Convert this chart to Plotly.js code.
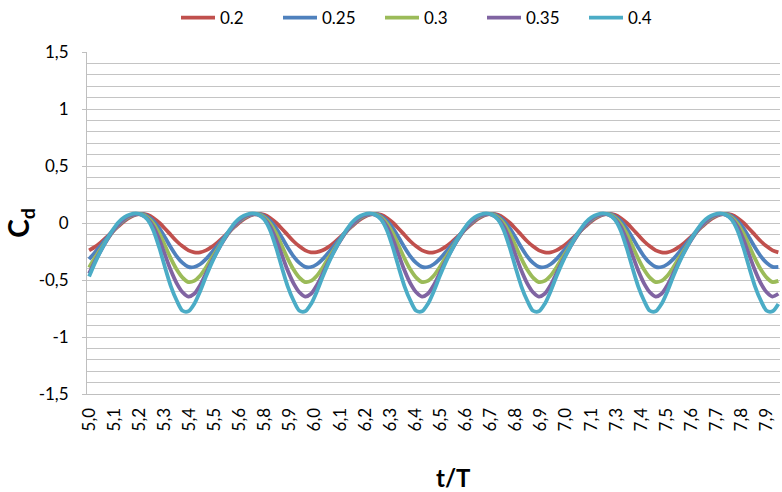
<!DOCTYPE html>
<html><head><meta charset="utf-8">
<script src="https://cdn.plot.ly/plotly-3.0.1.min.js"></script>
<style>html,body{margin:0;padding:0;background:#fff}#chart{width:782px;height:492px}</style>
</head><body><div id="chart"></div>
<script>
// time axis t/T
const tOverT = [
5,5.025,5.05,5.075,5.1,5.125,5.15,5.175,5.2,5.225,5.25,5.275,5.3,5.325,5.35,5.375,5.4,5.425,5.45,5.475,
5.5,5.525,5.55,5.575,5.6,5.625,5.65,5.675,5.7,5.725,5.75,5.775,5.8,5.825,5.85,5.875,5.9,5.925,5.95,5.975,
6,6.025,6.05,6.075,6.1,6.125,6.15,6.175,6.2,6.225,6.25,6.275,6.3,6.325,6.35,6.375,6.4,6.425,6.45,6.475,
6.5,6.525,6.55,6.575,6.6,6.625,6.65,6.675,6.7,6.725,6.75,6.775,6.8,6.825,6.85,6.875,6.9,6.925,6.95,6.975,
7,7.025,7.05,7.075,7.1,7.125,7.15,7.175,7.2,7.225,7.25,7.275,7.3,7.325,7.35,7.375,7.4,7.425,7.45,7.475,
7.5,7.525,7.55,7.575,7.6,7.625,7.65,7.675,7.7,7.725,7.75,7.775,7.8,7.825,7.85,7.875,7.9,7.925,7.95];

const cd_02 = [
-0.24,-0.21,-0.17,-0.125,-0.075,-0.03,0.015,0.05,0.072,0.08,0.071,0.044,0.002,-0.05,-0.105,-0.16,-0.205,-0.24,-0.257,-0.257,
-0.24,-0.21,-0.17,-0.124,-0.075,-0.03,0.015,0.05,0.072,0.08,0.071,0.044,0.002,-0.05,-0.105,-0.16,-0.205,-0.24,-0.257,-0.256,
-0.24,-0.21,-0.17,-0.125,-0.075,-0.03,0.015,0.05,0.072,0.08,0.071,0.044,0.002,-0.05,-0.105,-0.16,-0.205,-0.24,-0.257,-0.257,
-0.24,-0.21,-0.17,-0.125,-0.076,-0.03,0.015,0.05,0.072,0.08,0.071,0.044,0.002,-0.05,-0.105,-0.16,-0.205,-0.24,-0.257,-0.257,
-0.24,-0.21,-0.17,-0.125,-0.075,-0.03,0.015,0.05,0.072,0.08,0.071,0.044,0.002,-0.05,-0.105,-0.16,-0.205,-0.24,-0.257,-0.257,
-0.24,-0.21,-0.17,-0.125,-0.075,-0.03,0.015,0.05,0.072,0.08,0.071,0.044,0.002,-0.05,-0.105,-0.16,-0.205,-0.24,-0.257];

const cd_025 = [
-0.317,-0.258,-0.196,-0.134,-0.073,-0.02,0.025,0.058,0.076,0.079,0.06,0.018,-0.045,-0.127,-0.214,-0.292,-0.35,-0.385,-0.386,-0.362,
-0.317,-0.258,-0.196,-0.134,-0.073,-0.02,0.025,0.058,0.076,0.079,0.06,0.018,-0.045,-0.127,-0.214,-0.292,-0.35,-0.385,-0.386,-0.362,
-0.317,-0.258,-0.196,-0.134,-0.073,-0.02,0.025,0.058,0.076,0.079,0.06,0.018,-0.045,-0.127,-0.214,-0.292,-0.35,-0.385,-0.386,-0.362,
-0.317,-0.258,-0.196,-0.134,-0.073,-0.02,0.025,0.058,0.076,0.079,0.06,0.018,-0.045,-0.127,-0.214,-0.292,-0.35,-0.385,-0.386,-0.362,
-0.317,-0.258,-0.196,-0.134,-0.073,-0.02,0.025,0.058,0.076,0.079,0.06,0.018,-0.045,-0.127,-0.214,-0.292,-0.35,-0.385,-0.386,-0.362,
-0.317,-0.258,-0.196,-0.134,-0.073,-0.02,0.025,0.058,0.076,0.079,0.06,0.018,-0.045,-0.127,-0.214,-0.292,-0.35,-0.385,-0.386];

const cd_03 = [
-0.39,-0.306,-0.227,-0.15,-0.079,-0.02,0.03,0.062,0.078,0.075,0.049,-0.005,-0.09,-0.199,-0.312,-0.408,-0.479,-0.518,-0.508,-0.463,
-0.39,-0.306,-0.227,-0.15,-0.079,-0.02,0.03,0.062,0.078,0.075,0.049,-0.005,-0.09,-0.199,-0.312,-0.408,-0.479,-0.518,-0.508,-0.463,
-0.39,-0.306,-0.227,-0.15,-0.079,-0.02,0.03,0.062,0.078,0.075,0.049,-0.005,-0.09,-0.199,-0.312,-0.408,-0.479,-0.518,-0.508,-0.463,
-0.39,-0.306,-0.227,-0.15,-0.079,-0.02,0.03,0.062,0.078,0.075,0.049,-0.005,-0.09,-0.199,-0.312,-0.408,-0.479,-0.518,-0.508,-0.463,
-0.39,-0.306,-0.227,-0.15,-0.079,-0.02,0.03,0.062,0.078,0.075,0.049,-0.005,-0.09,-0.199,-0.312,-0.408,-0.479,-0.518,-0.508,-0.463,
-0.39,-0.306,-0.227,-0.15,-0.079,-0.02,0.03,0.062,0.078,0.075,0.049,-0.005,-0.09,-0.199,-0.312,-0.408,-0.479,-0.518,-0.508];

const cd_035 = [
-0.443,-0.337,-0.243,-0.156,-0.078,-0.015,0.035,0.066,0.079,0.071,0.037,-0.032,-0.143,-0.28,-0.417,-0.529,-0.607,-0.645,-0.621,-0.546,
-0.443,-0.337,-0.243,-0.156,-0.078,-0.015,0.035,0.066,0.079,0.071,0.037,-0.032,-0.143,-0.28,-0.417,-0.529,-0.607,-0.645,-0.621,-0.546,
-0.443,-0.337,-0.243,-0.156,-0.078,-0.015,0.035,0.066,0.079,0.071,0.037,-0.032,-0.143,-0.28,-0.417,-0.529,-0.607,-0.645,-0.621,-0.546,
-0.443,-0.337,-0.243,-0.156,-0.078,-0.015,0.035,0.066,0.079,0.071,0.037,-0.032,-0.143,-0.28,-0.417,-0.529,-0.607,-0.645,-0.621,-0.546,
-0.443,-0.337,-0.243,-0.156,-0.078,-0.015,0.035,0.066,0.079,0.071,0.037,-0.032,-0.143,-0.28,-0.417,-0.529,-0.607,-0.645,-0.621,-0.546,
-0.443,-0.337,-0.243,-0.156,-0.078,-0.015,0.035,0.066,0.079,0.071,0.037,-0.032,-0.143,-0.28,-0.417,-0.529,-0.607,-0.645,-0.621];

const cd_04 = [
-0.47,-0.35,-0.245,-0.15,-0.065,0.005,0.05,0.075,0.085,0.073,0.03,-0.065,-0.215,-0.39,-0.555,-0.68,-0.77,-0.775,-0.71,-0.6,
-0.47,-0.35,-0.245,-0.15,-0.065,0.005,0.05,0.075,0.085,0.073,0.03,-0.065,-0.215,-0.39,-0.555,-0.68,-0.77,-0.775,-0.71,-0.6,
-0.47,-0.35,-0.245,-0.15,-0.065,0.005,0.05,0.075,0.085,0.073,0.03,-0.065,-0.215,-0.39,-0.555,-0.68,-0.77,-0.775,-0.71,-0.6,
-0.47,-0.35,-0.245,-0.15,-0.065,0.005,0.05,0.075,0.085,0.073,0.03,-0.065,-0.215,-0.39,-0.555,-0.68,-0.77,-0.775,-0.71,-0.6,
-0.47,-0.35,-0.245,-0.15,-0.065,0.005,0.05,0.075,0.085,0.073,0.03,-0.065,-0.215,-0.39,-0.555,-0.68,-0.77,-0.775,-0.71,-0.6,
-0.47,-0.35,-0.245,-0.15,-0.065,0.005,0.05,0.075,0.085,0.073,0.03,-0.065,-0.215,-0.39,-0.555,-0.68,-0.77,-0.775,-0.71];

const seriesNames = ['0.2','0.25','0.3','0.35','0.4'];
const seriesColors = ['#C0504D','#4F81BD','#9BBB59','#8064A2','#4BACC6'];
const xTickLabels = ['5,0','5,1','5,2','5,3','5,4','5,5','5,6','5,8','5,9','6,0','6,1','6,2','6,3','6,4',
  '6,5','6,6','6,7','6,8','6,9','7,0','7,1','7,3','7,4','7,5','7,6','7,7','7,8','7,9'];
const yTickValues = [-1.5,-1,-0.5,0,0.5,1,1.5];
const yTickLabels = ['-1,5','-1','-0,5','0','0,5','1','1,5'];

const seriesValues = [cd_02, cd_025, cd_03, cd_035, cd_04];
const labelSpacing = 0.1074; // category-label spacing of the original axis
const xTickPositions = xTickLabels.map((_, i) => 5 + i * labelSpacing);

const traces = seriesValues.map((vals, i) => ({
  type: 'scatter', mode: 'lines', name: seriesNames[i],
  x: tOverT, y: vals,
  line: {color: seriesColors[i], width: 3.8, shape: 'spline', smoothing: 0.8}
}));

const gridCol = '#c4c4c4';
const layout = {
  width: 782, height: 492,
  margin: {l: 87, r: 2, t: 52, b: 98, pad: 0},
  paper_bgcolor: '#ffffff', plot_bgcolor: '#ffffff',
  font: {family: 'Lato, "Open Sans", sans-serif', size: 16, color: '#000000'},
  showlegend: true,
  legend: {orientation: 'h', xref: 'container', yref: 'container', x: 176 / 782, xanchor: 'left',
           y: 1, yanchor: 'top', font: {size: 17}, itemwidth: 34,
           entrywidth: 53, entrywidthmode: 'pixels', bgcolor: 'rgba(0,0,0,0)'},
  xaxis: {range: [4.991, 7.957], tickmode: 'array', tickvals: xTickPositions, ticktext: xTickLabels,
          tickangle: -90, showgrid: false, zeroline: false, showline: true, linecolor: '#bfbfbf',
          linewidth: 1, ticks: '', ticklabelstandoff: 6, tickfont: {size: 17}},
  yaxis: {range: [-1.5, 1.5], tickmode: 'array', tickvals: yTickValues, ticktext: yTickLabels,
          showgrid: true, gridcolor: gridCol, gridwidth: 1,
          minor: {tickmode: 'linear', tick0: 0, dtick: 0.1, showgrid: true, gridcolor: gridCol, gridwidth: 1, ticks: ''},
          zeroline: false, showline: true, linecolor: '#bfbfbf', linewidth: 1,
          ticks: 'outside', ticklen: 4, tickcolor: '#bfbfbf', ticklabelstandoff: 10, tickfont: {size: 17},
          title: {text: '<b>C<sub>d</sub></b>', font: {size: 28}, standoff: 0}},
  annotations: [{text: '<b>t/T</b>', xref: 'paper', yref: 'paper', x: (453 - 87) / 693, y: (394 - 478) / 342,
                 xanchor: 'center', yanchor: 'middle', showarrow: false, font: {size: 24}}]
};

Plotly.newPlot('chart', traces, layout, {displayModeBar: false, staticPlot: true});
</script>
</body></html>
